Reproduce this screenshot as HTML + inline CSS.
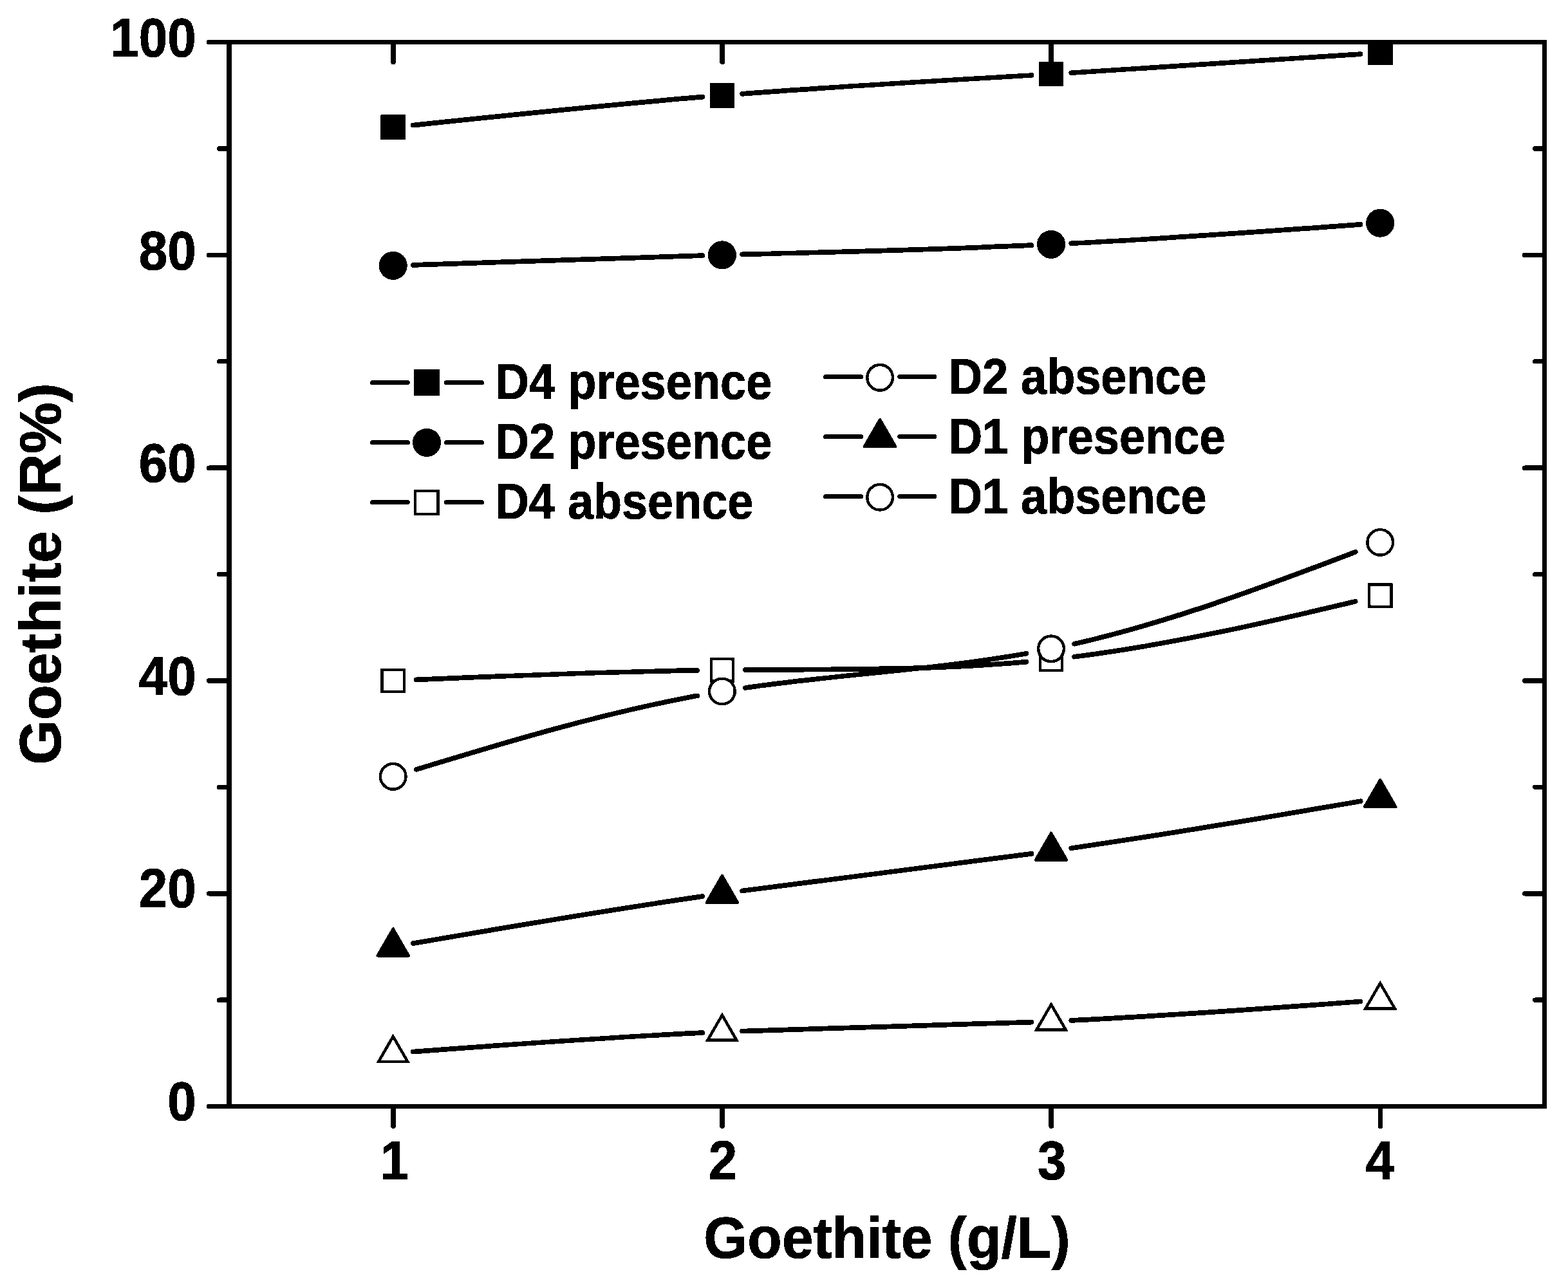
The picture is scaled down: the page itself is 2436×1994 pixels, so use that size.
<!DOCTYPE html>
<html lang="en"><head><meta charset="utf-8">
<style>html,body{margin:0;padding:0;background:#fff}body{width:2436px;height:1994px}svg{display:block}text{font-family:"Liberation Sans",sans-serif;font-weight:bold;fill:#000;stroke:#000;stroke-width:1;stroke-linejoin:round}</style>
</head><body>
<svg width="2436" height="1994" viewBox="0 0 2436 1994">
<defs><filter id="bw" filterUnits="userSpaceOnUse" x="0" y="0" width="2436" height="1994" color-interpolation-filters="sRGB"><feComponentTransfer><feFuncR type="discrete" tableValues="0 1"/><feFuncG type="discrete" tableValues="0 1"/><feFuncB type="discrete" tableValues="0 1"/></feComponentTransfer></filter></defs>
<g filter="url(#bw)">
<rect x="0" y="0" width="2436" height="1994" fill="#fff"/>
<g stroke="#000" stroke-width="7.2" stroke-linecap="round" fill="none">
<path d="M355 1719.6H324.3"/>
<path d="M355 1554.19H340.4"/>
<path d="M2398.5 1554.19H2384.6"/>
<path d="M355 1388.78H324.3"/>
<path d="M2398.5 1388.78H2368.4"/>
<path d="M355 1223.37H340.4"/>
<path d="M2398.5 1223.37H2384.6"/>
<path d="M355 1057.96H324.3"/>
<path d="M2398.5 1057.96H2368.4"/>
<path d="M355 892.55H340.4"/>
<path d="M2398.5 892.55H2384.6"/>
<path d="M355 727.14H324.3"/>
<path d="M2398.5 727.14H2368.4"/>
<path d="M355 561.73H340.4"/>
<path d="M2398.5 561.73H2384.6"/>
<path d="M355 396.32H324.3"/>
<path d="M2398.5 396.32H2368.4"/>
<path d="M355 230.91H340.4"/>
<path d="M2398.5 230.91H2384.6"/>
<path d="M355 65.5H324.3"/>
</g>
<g stroke="#000" stroke-width="7.8" stroke-linecap="round" fill="none">
<path d="M611 1720.6V1750.1"/>
<path d="M611 66.5V96.3"/>
<path d="M1122.17 1720.6V1750.1"/>
<path d="M1122.17 66.5V96.3"/>
<path d="M1633.33 1720.6V1750.1"/>
<path d="M1633.33 66.5V96.3"/>
<path d="M2144.5 1720.6V1750.1"/>
<path d="M2144.5 66.5V96.3"/>
</g>
<g stroke="#000" stroke-width="7.7" stroke-linecap="round" fill="none">
<path d="M641.85 194.57C791.67 178.74 941.49 163.13 1091.32 150.71M1153.02 145.79C1302.84 134.28 1452.66 125.93 1602.48 116.98M1664.18 113.25C1814.01 104.08 1963.83 94.12 2113.65 84.1"/>
<path d="M641.85 411.8C791.67 406.63 941.49 401.51 1091.32 397.2M1153.02 395.47C1302.84 391.36 1452.66 387.86 1602.48 381.2M1664.18 378.27C1814.01 370.7 1963.83 359.93 2113.65 348.96"/>
<path d="M646.75 1056.42C792.27 1050.16 937.79 1044.19 1083.32 1041.93M1157.92 1041.1C1303.44 1040.08 1448.96 1041.67 1594.48 1028.7M1669.08 1020.71C1814.61 1002.47 1960.13 969.27 2105.65 934.84"/>
<path d="M646.75 1195.89C792.27 1151.41 937.79 1108.17 1083.32 1081.28M1157.92 1068.98C1303.44 1047.79 1448.96 1041.48 1594.48 1015.7M1669.08 1000.64C1814.61 967.58 1960.13 913.56 2105.65 857.83"/>
<path d="M641.85 1466.16C791.67 1440.32 941.49 1414.74 1091.32 1393.16M1153.02 1384.51C1302.84 1364.05 1452.66 1347.34 1602.48 1326.88M1664.18 1318.23C1814.01 1296.65 1963.83 1271.07 2113.65 1245.23"/>
<path d="M641.85 1634.57C791.67 1623.27 941.49 1612.23 1091.32 1605.2M1153.02 1602.54C1302.84 1596.63 1452.66 1594.46 1602.48 1588.55M1664.18 1585.88C1814.01 1578.85 1963.83 1567.81 2113.65 1556.52"/>
</g>
<g>
<rect x="591.35" y="178.48" width="38.7" height="38.7" fill="#000"/>
<rect x="1102.52" y="128.85" width="38.7" height="38.7" fill="#000"/>
<rect x="1613.68" y="95.77" width="38.7" height="38.7" fill="#000"/>
<rect x="2124.85" y="62.69" width="38.7" height="38.7" fill="#000"/>
<circle cx="610.7" cy="412.86" r="22.05" fill="#000"/>
<circle cx="1121.87" cy="396.32" r="22.05" fill="#000"/>
<circle cx="1633.03" cy="379.78" r="22.05" fill="#000"/>
<circle cx="2144.2" cy="346.7" r="22.05" fill="#000"/>
<rect x="593.55" y="1040.81" width="34.3" height="34.3" fill="#fff" stroke="#000" stroke-width="4.4"/>
<rect x="1104.72" y="1024.27" width="34.3" height="34.3" fill="#fff" stroke="#000" stroke-width="4.4"/>
<rect x="1615.88" y="1007.73" width="34.3" height="34.3" fill="#fff" stroke="#000" stroke-width="4.4"/>
<rect x="2127.05" y="908.48" width="34.3" height="34.3" fill="#fff" stroke="#000" stroke-width="4.4"/>
<circle cx="610.7" cy="1206.83" r="19.85" fill="#fff" stroke="#000" stroke-width="4.4"/>
<circle cx="1121.87" cy="1074.5" r="19.85" fill="#fff" stroke="#000" stroke-width="4.4"/>
<circle cx="1633.03" cy="1008.34" r="19.85" fill="#fff" stroke="#000" stroke-width="4.4"/>
<circle cx="2144.2" cy="842.93" r="19.85" fill="#fff" stroke="#000" stroke-width="4.4"/>
<polygon points="610.7,1443.28 635.12,1485.58 586.28,1485.58" fill="#000" stroke="#000" stroke-width="4" stroke-linejoin="round"/>
<polygon points="1121.87,1360.58 1146.29,1402.88 1097.44,1402.88" fill="#000" stroke="#000" stroke-width="4" stroke-linejoin="round"/>
<polygon points="1633.03,1294.42 1657.46,1336.72 1608.61,1336.72" fill="#000" stroke="#000" stroke-width="4" stroke-linejoin="round"/>
<polygon points="2144.2,1211.71 2168.62,1254.01 2119.78,1254.01" fill="#000" stroke="#000" stroke-width="4" stroke-linejoin="round"/>
<polygon points="610.7,1610.8 633.3,1649.94 588.1,1649.94" fill="#fff" stroke="#000" stroke-width="4.5" stroke-linejoin="miter"/>
<polygon points="1121.87,1577.71 1144.47,1616.86 1099.26,1616.86" fill="#fff" stroke="#000" stroke-width="4.5" stroke-linejoin="miter"/>
<polygon points="1633.03,1561.17 1655.64,1600.32 1610.43,1600.32" fill="#fff" stroke="#000" stroke-width="4.5" stroke-linejoin="miter"/>
<polygon points="2144.2,1528.09 2166.8,1567.24 2121.6,1567.24" fill="#fff" stroke="#000" stroke-width="4.5" stroke-linejoin="miter"/>
</g>
<g fill="#000">
<rect x="352" y="62" width="8" height="1661.1"/>
<rect x="2396" y="62" width="7" height="1661.1"/>
<rect x="352" y="62" width="2051" height="7"/>
<rect x="352" y="1716.1" width="2051" height="7"/>
</g>
<g stroke="#000" stroke-width="7.1" stroke-linecap="round" fill="none">
<path d="M578.55 594.5H633.35M693.45 594.5H748.45"/>
<path d="M578.55 687.6H633.45M693.55 687.6H748.45"/>
<path d="M578.55 780.6H633.35M693.45 780.6H748.45"/>
<path d="M1282.55 585.5H1337.55M1397.65 585.5H1451.65"/>
<path d="M1282.55 678.5H1337.55M1397.65 678.5H1451.65"/>
<path d="M1282.55 771.5H1337.55M1397.65 771.5H1451.65"/>
</g>
<g>
<rect x="642.9" y="574.2" width="40" height="40.6" fill="#000"/>
<circle cx="663" cy="687.8" r="22.05" fill="#000"/>
<rect x="645.1" y="762.8" width="35.6" height="36.2" fill="#fff" stroke="#000" stroke-width="4.4"/>
<circle cx="1367.1" cy="586.8" r="19.85" fill="#fff" stroke="#000" stroke-width="4.4"/>
<polygon points="1367.1,651.8 1391.52,694.1 1342.68,694.1" fill="#000" stroke="#000" stroke-width="4" stroke-linejoin="round"/>
<circle cx="1367.1" cy="772.7" r="19.85" fill="#fff" stroke="#000" stroke-width="4.4"/>
</g>
<g>
<text transform="translate(769.7 620.1) scale(0.9385 1)" font-size="77" text-anchor="start">D4 presence</text>
<text transform="translate(769.7 713.4) scale(0.9385 1)" font-size="77" text-anchor="start">D2 presence</text>
<text transform="translate(769.71 806.3) scale(0.9362 1)" font-size="77" text-anchor="start">D4 absence</text>
<text transform="translate(1473.91 612.2) scale(0.9362 1)" font-size="77" text-anchor="start">D2 absence</text>
<text transform="translate(1473.9 705.3) scale(0.9385 1)" font-size="77" text-anchor="start">D1 presence</text>
<text transform="translate(1473.91 798.2) scale(0.9362 1)" font-size="77" text-anchor="start">D1 absence</text>
</g>
<g>
<text transform="translate(304.7 1740.7) scale(0.93 1)" font-size="86" text-anchor="end">0</text>
<text transform="translate(304.7 1410.16) scale(0.93 1)" font-size="86" text-anchor="end">20</text>
<text transform="translate(304.7 1079.62) scale(0.93 1)" font-size="86" text-anchor="end">40</text>
<text transform="translate(304.7 749.08) scale(0.93 1)" font-size="86" text-anchor="end">60</text>
<text transform="translate(304.7 418.54) scale(0.93 1)" font-size="86" text-anchor="end">80</text>
<text transform="translate(304.7 88) scale(0.93 1)" font-size="86" text-anchor="end">100</text>
<text transform="translate(613 1832.6) scale(0.93 1)" font-size="86" text-anchor="middle">1</text>
<text transform="translate(1122.87 1832.6) scale(0.93 1)" font-size="86" text-anchor="middle">2</text>
<text transform="translate(1634.33 1832.6) scale(0.93 1)" font-size="86" text-anchor="middle">3</text>
<text transform="translate(2144 1832.6) scale(0.93 1)" font-size="86" text-anchor="middle">4</text>
</g>
<g>
<text transform="translate(1377.9 1955.4) scale(0.9628 1)" font-size="91" text-anchor="middle">Goethite (g/L)</text>
<text transform="translate(93.6 892.1) rotate(-90) scale(0.9865 1)" font-size="91" text-anchor="middle">Goethite (R%)</text>
</g>
</g>
</svg>
</body></html>
